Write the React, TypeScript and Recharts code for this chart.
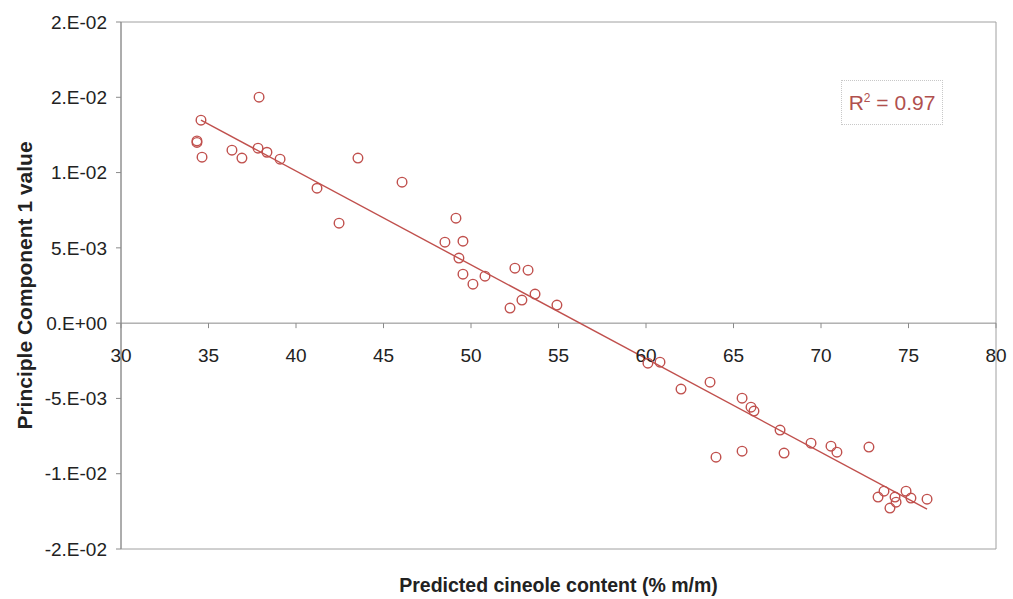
import React from 'react';
import {
  ScatterChart, Scatter, XAxis, YAxis,
  ReferenceLine, ReferenceDot, ReferenceArea, Label
} from 'recharts';

// predicted cineole content (% m/m) for each sample
const CINEOLE = [
  34.34, 34.34, 34.57, 34.63, 36.34, 36.91, 37.89, 37.83, 38.34, 39.09,
  41.2, 42.46, 43.54, 46.06, 48.51, 49.14, 49.31, 49.54, 49.54, 50.11,
  50.8, 52.23, 52.51, 52.91, 53.26, 53.66, 54.91,
  60.11, 60.8, 62.0, 63.66, 64.0, 65.49, 65.49, 66.0, 66.17, 67.66,
  67.89, 69.43, 70.57, 70.91, 72.74, 73.26, 73.6, 73.94, 74.23, 74.29,
  74.86, 75.14, 76.06,
];

// principal component 1 score for the same samples
const PC1 = [
  0.0121, 0.0120, 0.01348, 0.01102, 0.01149, 0.01096, 0.01501, 0.01162, 0.01135, 0.01089,
  0.00896, 0.00664, 0.01096, 0.00936, 0.00538, 0.00697, 0.00432, 0.00544, 0.00325, 0.00259,
  0.00312, 0.0010, 0.00365, 0.00153, 0.00352, 0.00193, 0.0012,
  -0.00266, -0.00259, -0.00438, -0.00392, -0.0089, -0.00498, -0.0085, -0.00558, -0.00584, -0.0071,
  -0.00863, -0.00797, -0.00817, -0.00857, -0.00823, -0.01155, -0.01116, -0.01228, -0.01155, -0.01189,
  -0.01116, -0.01162, -0.01169,
];

// linear trendline end points
const TREND_X = [34.57, 76.06];
const TREND_Y = [0.01348, -0.01235];
const R_SQUARED = '0.97';

const X_TICKS = [30, 35, 40, 45, 50, 55, 60, 65, 70, 75, 80];
const Y_TICKS = [-0.015, -0.01, -0.005, 0, 0.005, 0.01, 0.015, 0.02];
const Y_TICK_LABELS = ['-2.E-02', '-1.E-02', '-5.E-03', '0.E+00', '5.E-03', '1.E-02', '2.E-02', '2.E-02'];

const points = CINEOLE.map((x, i) => ({ x, y: PC1[i] }));

const FONT = '"Liberation Sans", Arial, sans-serif';
const MARK = '#c0504d';
const AXIS = '#8a8a8a';

const Ring = (p: any) => (
  <circle cx={p.cx} cy={p.cy} r={4.8} fill="none" stroke={MARK} strokeWidth={1.4} />
);

const xTickShape = (label: number) => (p: any) => (
  <g>
    <line x1={p.cx} y1={p.cy} x2={p.cx} y2={p.cy + 5} stroke={AXIS} />
    <text x={p.cx} y={p.cy + 39} textAnchor="middle" fontSize={19} fontFamily={FONT} fill="#222">
      {label}
    </text>
  </g>
);

const YTitle = (props: any) => {
  const vb = props.viewBox;
  const cx = vb.x + 24;
  const cy = vb.y + vb.height / 2;
  return (
    <text x={cx} y={cy} transform={`rotate(-90 ${cx} ${cy})`} textAnchor="middle"
      dominantBaseline="central" fontSize={21} fontWeight="bold" fontFamily={FONT} fill="#222">
      Principle Component 1 value
    </text>
  );
};

const XTitle = (props: any) => {
  const vb = props.viewBox;
  return (
    <text x={vb.x + vb.width / 2} y={vb.y + 43} textAnchor="middle"
      fontSize={19.5} fontWeight="bold" fontFamily={FONT} fill="#222">
      Predicted cineole content (% m/m)
    </text>
  );
};

export default function App() {
  return (
    <div style={{ position: 'absolute', left: 0, top: 0, width: 1013, height: 599, background: '#fff' }}>
      <ScatterChart width={1013} height={599} margin={{ top: 22, right: 17, bottom: 0, left: 0 }}>
        <XAxis type="number" dataKey="x" domain={[30, 80]} ticks={X_TICKS} tick={false}
          tickLine={false} axisLine={false} height={50}>
          <Label content={XTitle} />
        </XAxis>
        <YAxis type="number" dataKey="y" domain={[-0.015, 0.02]} ticks={Y_TICKS} width={121}
          tickFormatter={(v: number) => Y_TICK_LABELS[Y_TICKS.indexOf(v)]}
          tick={{ fill: '#222', fontSize: 19, fontFamily: FONT }}
          tickSize={5} tickMargin={9}
          axisLine={{ stroke: AXIS }} tickLine={{ stroke: AXIS }}>
          <Label content={YTitle} />
        </YAxis>
        <ReferenceArea x1={30} x2={80} y1={-0.015} y2={0.02} fill="none" stroke="#a0a0a0" />
        <ReferenceLine y={0} stroke={AXIS} />
        {X_TICKS.map((t) => (
          <ReferenceDot key={t} x={t} y={0} r={0} shape={xTickShape(t)} />
        ))}
        <Scatter data={points} shape={Ring} isAnimationActive={false} />
        <ReferenceLine
          segment={[{ x: TREND_X[0], y: TREND_Y[0] }, { x: TREND_X[1], y: TREND_Y[1] }]}
          stroke={MARK} strokeWidth={1.4} />
      </ScatterChart>
      <div style={{
        position: 'absolute', left: 841, top: 80, width: 102, height: 45,
        border: '1px dotted #c8c8c8', boxSizing: 'border-box',
        fontFamily: FONT, fontSize: 21, color: '#b0504e',
        display: 'flex', alignItems: 'center', justifyContent: 'center',
      }}>
        <span>R<sup style={{ fontSize: 12 }}>2</sup> = {R_SQUARED}</span>
      </div>
    </div>
  );
}
